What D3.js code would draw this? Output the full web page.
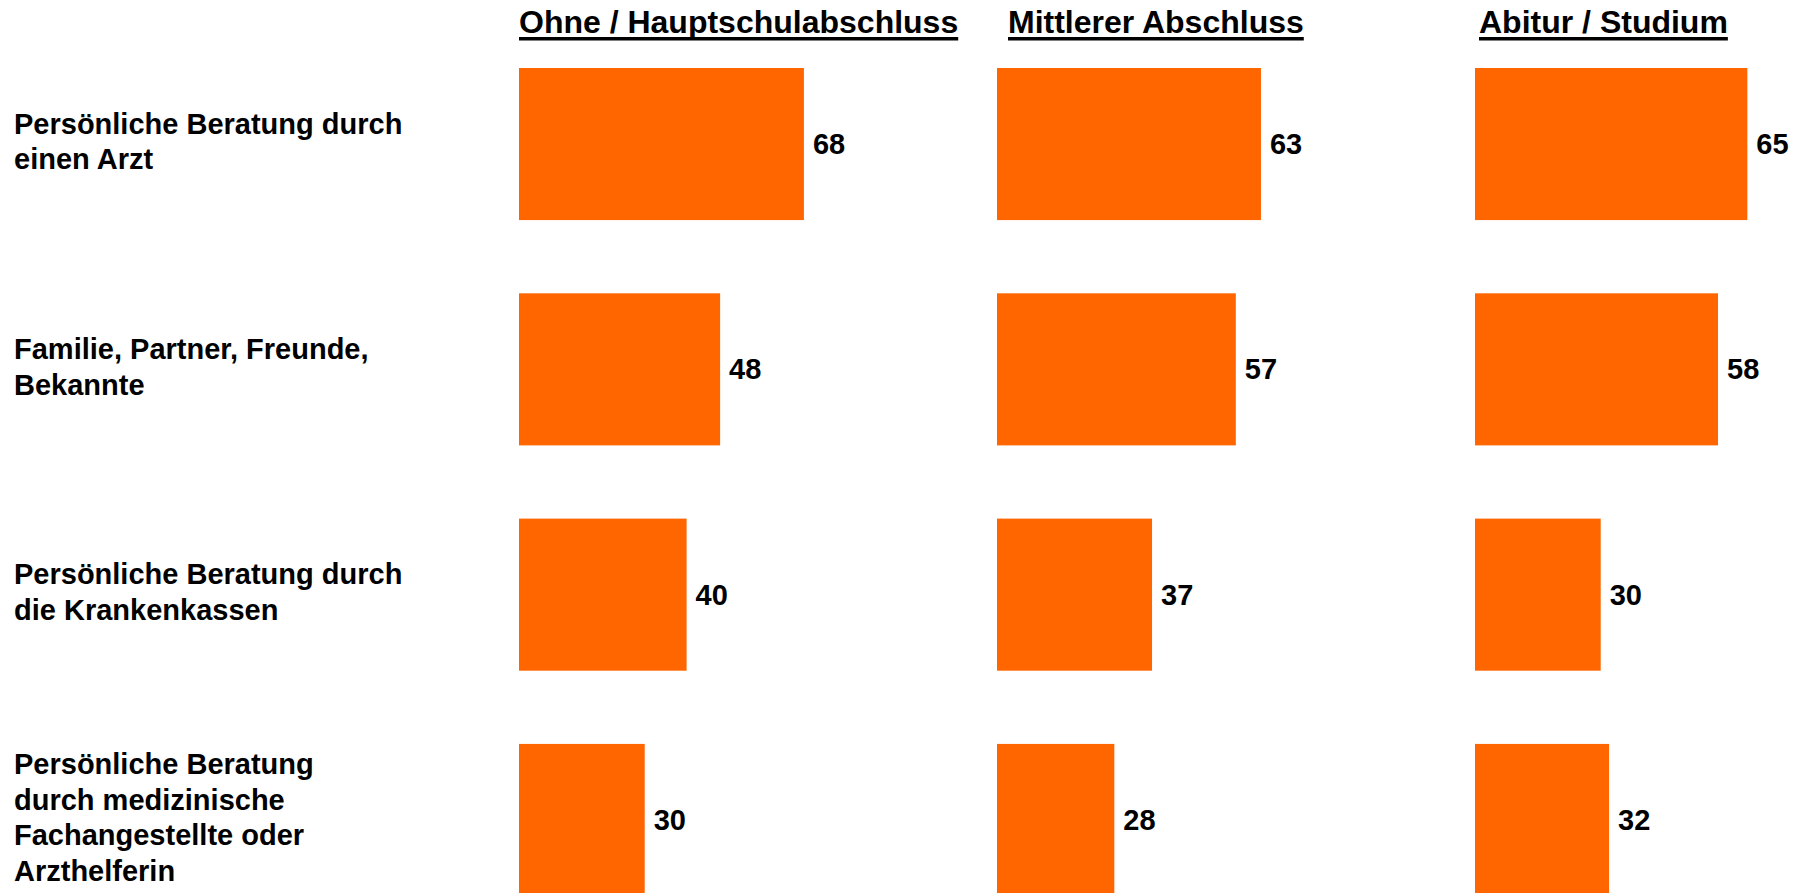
<!DOCTYPE html>
<html>
<head>
<meta charset="utf-8">
<script src="https://cdn.jsdelivr.net/npm/d3@7"></script>
<style>
    body { margin: 0; background: #fff; }
    text { font-family: "Liberation Sans", Arial, sans-serif; font-weight: bold; fill: #000; }
</style>
</head>
<body>
<div id="chart"></div>
<script>
// categories (rows), one line per entry in the label
const categories = [
    ["Persönliche Beratung durch", "einen Arzt"],
    ["Familie, Partner, Freunde,", "Bekannte"],
    ["Persönliche Beratung durch", "die Krankenkassen"],
    ["Persönliche Beratung", "durch medizinische", "Fachangestellte oder", "Arzthelferin"]
]

// column groups
const groups = [
    "Ohne / Hauptschulabschluss",
    "Mittlerer Abschluss",
    "Abitur / Studium"
]

// values per group, same order as categories
const ohne = [68, 48, 40, 30]
const mittlerer = [63, 57, 37, 28]
const abitur = [65, 58, 30, 32]

const bar_color = '#FF6600'

generate()

function generate(){
    const chart_width = 1804
    const chart_height = 893
    const series = [ohne, mittlerer, abitur]
    // headers are not exactly aligned with the bars in the original
    const header_shift = [0, 11, 4]

    var svg = d3.select('#chart')
        .append('svg')
        .attr('width', chart_width)
        .attr('height', chart_height)

    // Scales
    var col_scale = d3.scalePoint()
        .domain(d3.range(groups.length))
        .range([519, 1475])

    var row_scale = d3.scaleBand()
        .domain(d3.range(categories.length))
        .range([68, 896])
        .paddingInner(0.325)
        .paddingOuter(0)

    var x_scale = d3.scaleLinear()
        .domain([0, 100])
        .range([0, 419])

    // Column headers, underlined
    var headers = svg.append('g')
        .attr('class', 'headers')
        .selectAll('g')
        .data(groups)
        .enter()
        .append('g')
        .attr('transform', function(d, i){
            return 'translate(' + (col_scale(i) + header_shift[i]) + ',33)'
        })

    headers.append('text')
        .attr('font-size', 32)
        .text(function(d){ return d })

    headers.each(function(){
        var g = d3.select(this)
        var w = g.select('text').node().getComputedTextLength()
        g.append('rect')
            .attr('x', 0)
            .attr('y', 4)
            .attr('width', w)
            .attr('height', 3.5)
            .attr('fill', '#000')
    })

    // Row labels
    var line_h = 35.5
    svg.append('g')
        .attr('class', 'row-labels')
        .selectAll('text')
        .data(categories)
        .enter()
        .append('text')
        .attr('font-size', 29)
        .attr('y', function(d, i){
            var mid = row_scale(i) + row_scale.bandwidth() / 2 - 3
            return mid - (d.length - 1) * line_h / 2
        })
        .each(function(d){
            var t = d3.select(this)
            var y0 = +t.attr('y')
            d.forEach(function(line, k){
                t.append('tspan')
                    .attr('x', 14)
                    .attr('y', y0)
                    .attr('dy', (k * line_h) + 10.5)
                    .text(line)
            })
        })

    // Bars and values
    series.forEach(function(values, c){
        var g = svg.append('g')
            .attr('class', 'bars')
            .attr('transform', 'translate(' + col_scale(c) + ',0)')

        g.selectAll('rect')
            .data(values)
            .enter()
            .append('rect')
            .attr('x', 0)
            .attr('y', function(d, i){ return row_scale(i) })
            .attr('width', function(d){ return x_scale(d) })
            .attr('height', row_scale.bandwidth())
            .attr('fill', bar_color)

        g.selectAll('text')
            .data(values)
            .enter()
            .append('text')
            .attr('font-size', 29)
            .attr('x', function(d){ return x_scale(d) + 9 })
            .attr('y', function(d, i){ return row_scale(i) + row_scale.bandwidth() / 2 })
            .attr('dy', '0.35em')
            .text(function(d){ return d })
    })
}
</script>
</body>
</html>
